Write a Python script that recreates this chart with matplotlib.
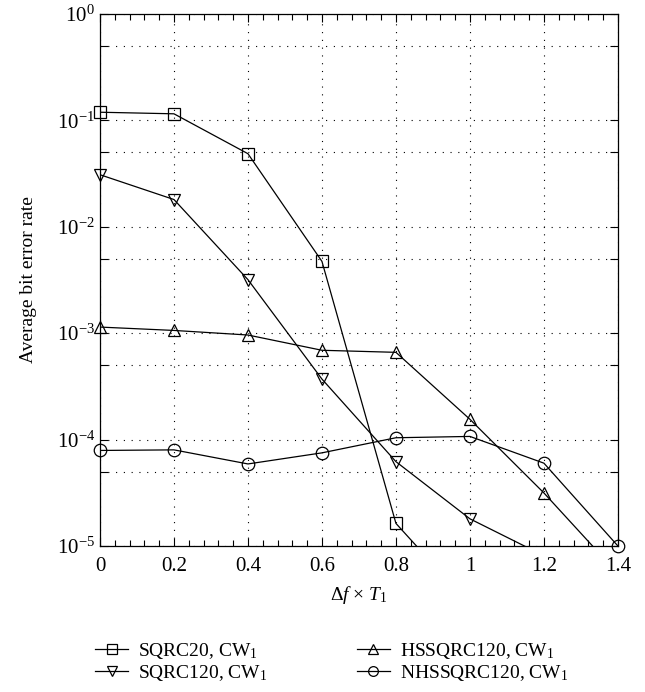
import matplotlib
matplotlib.use("Agg")
import matplotlib.pyplot as plt
import matplotlib.ticker as ticker
import numpy as np

plt.rcParams['font.family'] = ['Liberation Serif', 'DejaVu Serif']
plt.rcParams['mathtext.fontset'] = 'custom'
plt.rcParams['mathtext.rm'] = 'Liberation Serif'
plt.rcParams['mathtext.it'] = 'Liberation Serif:italic'
plt.rcParams['mathtext.default'] = 'regular'

# frequency offset (normalised)
df = [0, 0.2, 0.4, 0.6, 0.8, 1.0, 1.2, 1.4]

# average BER per scheme (last values fall below the plotted range)
ber_sqrc20 = [0.119, 0.115, 0.0485, 0.00472, 1.63e-5, 2.8e-6]
ber_sqrc120 = [0.0308, 0.018, 0.00318, 3.7e-4, 6.2e-5, 1.8e-5, 8.1e-6]
ber_hssqrc120 = [1.14e-3, 1.06e-3, 9.6e-4, 6.9e-4, 6.6e-4, 1.55e-4, 3.15e-5, 5.5e-6]
ber_nhssqrc120 = [7.9e-5, 8.0e-5, 5.9e-5, 7.5e-5, 1.04e-4, 1.07e-4, 6.0e-5, 1.0e-5]

labels = ['SQRC20, CW$_1$', 'SQRC120, CW$_1$',
          'HSSQRC120, CW$_1$', 'NHSSQRC120, CW$_1$']
markers = ['s', 'v', '^', 'o']

fig = plt.figure(figsize=(6.45, 6.92), dpi=100)
ax = fig.add_axes([0.155, 0.211, 0.803, 0.769])

ymin, ymax = 1e-5, 1.0
handles = []
for ber, mk, lab in zip([ber_sqrc20, ber_sqrc120, ber_hssqrc120, ber_nhssqrc120],
                        markers, labels):
    x = np.array(df[:len(ber)])
    y = np.array(ber)
    ax.plot(x, y, '-', color='black', lw=0.9)
    # markers on the border should not be cut off
    keep = y >= ymin * 0.999
    ax.plot(x[keep], y[keep], linestyle='none', marker=mk, ms=9, mfc='none',
            mec='black', mew=0.9, clip_on=False)
    h, = ax.plot([], [], '-', color='black', lw=0.9, marker=mk, ms=7,
                 mfc='none', mec='black', mew=0.9, label=lab)
    handles.append(h)

ax.set_yscale('log')
ax.set_xlim(0, 1.4)
ax.set_ylim(ymin, ymax)

ax.xaxis.set_major_locator(ticker.MultipleLocator(0.2))
ax.xaxis.set_minor_locator(ticker.MultipleLocator(0.04))
ax.xaxis.set_major_formatter(ticker.FuncFormatter(lambda v, p: ('%g' % round(v, 2))))
ax.yaxis.set_major_locator(ticker.LogLocator(base=10, numticks=10))
ax.yaxis.set_minor_locator(ticker.LogLocator(base=10, subs=[5.0], numticks=10))
ax.yaxis.set_minor_formatter(ticker.NullFormatter())

ax.tick_params(which='both', direction='in', top=True, right=True, labelsize=15)
ax.tick_params(which='major', length=6, width=0.8)
ax.tick_params(which='minor', length=4, width=0.8)
ax.tick_params(axis='y', which='minor', length=6)
ax.tick_params(axis='x', pad=8)

ax.grid(True, which='major', color='black', linestyle=(0, (1, 6)), lw=0.8)
ax.grid(True, which='minor', axis='y', color='black', linestyle=(0, (1, 6)), lw=0.8)

for s in ax.spines.values():
    s.set_linewidth(0.9)

ax.set_xlabel(r'$\Delta\it{f}$ $\times$ $\it{T}_1$', fontsize=14, labelpad=6)
ax.set_ylabel('Average bit error rate', fontsize=14, labelpad=14)

fig.legend(handles=handles, labels=labels,
           ncol=2, loc='upper left', bbox_to_anchor=(95 / 645, 1 - 641 / 692),
           frameon=False, fontsize=14, handlelength=1.7, columnspacing=4.6,
           labelspacing=0.1, handletextpad=0.5, borderpad=0, borderaxespad=0)

fig.savefig('out.png', dpi=100)
